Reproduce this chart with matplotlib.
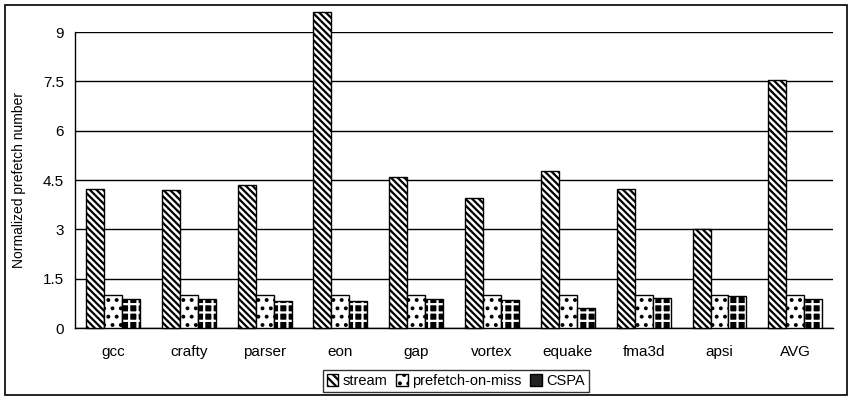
import matplotlib
matplotlib.use("Agg")
import matplotlib.pyplot as plt
import numpy as np
from matplotlib.patches import Rectangle, Patch

categories = ["gcc", "crafty", "parser", "eon", "gap", "vortex", "equake", "fma3d", "apsi", "AVG"]
stream = [4.22, 4.19, 4.35, 9.6, 4.6, 3.95, 4.77, 4.24, 3.0, 7.55]
prefetch_on_miss = [1.0, 1.0, 1.0, 1.0, 1.0, 1.0, 1.0, 1.0, 1.0, 1.0]
cspa = [0.88, 0.88, 0.83, 0.82, 0.87, 0.85, 0.6, 0.91, 0.98, 0.87]
yticks = [0, 1.5, 3, 4.5, 6, 7.5, 9]
ytick_labels = ["0", "1.5", "3", "4.5", "6", "7.5", "9"]

plt.rcParams["font.family"] = ["Liberation Sans", "DejaVu Sans"]
plt.rcParams["hatch.linewidth"] = 1.6

fig = plt.figure(figsize=(8.52, 4.0), dpi=100)
ax = fig.add_axes([0.088, 0.18, 0.89, 0.74])

x = np.arange(len(categories))
w = 0.237
b1 = ax.bar(x - w, stream, w, facecolor="white", edgecolor="black", hatch="\\\\\\\\\\", linewidth=1.0, zorder=3)
b2 = ax.bar(x, prefetch_on_miss, w, facecolor="white", edgecolor="black", hatch="..", linewidth=1.0, zorder=3)
# CSPA: checker-like look -> black fill with white grid hatch, then black outline
ax.bar(x + w, cspa, w, facecolor="black", edgecolor="white", hatch="++", linewidth=0, zorder=3)
ax.bar(x + w, cspa, w, facecolor="none", edgecolor="black", linewidth=1.0, zorder=4)
for r in b1:
    r.set_clip_on(False)

ax.set_xlim(-0.5, len(categories) - 0.5)
ax.set_ylim(0, 9)
ax.set_yticks(yticks)
ax.set_yticklabels(ytick_labels)
ax.set_xticks(x)
ax.set_xticklabels(categories)
ax.tick_params(axis="both", length=0, labelsize=11, pad=8)
ax.tick_params(axis="x", pad=12)
ax.yaxis.grid(True, color="black", linewidth=1.0, zorder=0)
ax.set_axisbelow(True)
for s in ["top", "right"]:
    ax.spines[s].set_visible(False)
ax.spines["left"].set_linewidth(1.0)
ax.spines["bottom"].set_linewidth(1.0)
ax.set_ylabel("Normalized prefetch number", fontsize=10, labelpad=12)

h1 = Patch(facecolor="white", edgecolor="black", hatch="\\\\\\\\", label="stream")
h2 = Patch(facecolor="white", edgecolor="black", hatch="..", label="prefetch-on-miss")
h3 = Patch(facecolor="#222222", edgecolor="black", label="CSPA")
leg = fig.legend(handles=[h1, h2, h3], loc="center", bbox_to_anchor=(0.535, 0.0475), ncol=3,
                 frameon=True, fontsize=10.5, handlelength=0.8, handleheight=0.8,
                 handletextpad=0.3, columnspacing=0.6, borderpad=0.25, fancybox=False)
leg.get_frame().set_edgecolor("black")
leg.get_frame().set_linewidth(1.0)

fig.patches.append(Rectangle((0.006, 0.012), 0.988, 0.975, transform=fig.transFigure,
                             fill=False, edgecolor="black", linewidth=1.2))

fig.savefig("out.png", dpi=100)
